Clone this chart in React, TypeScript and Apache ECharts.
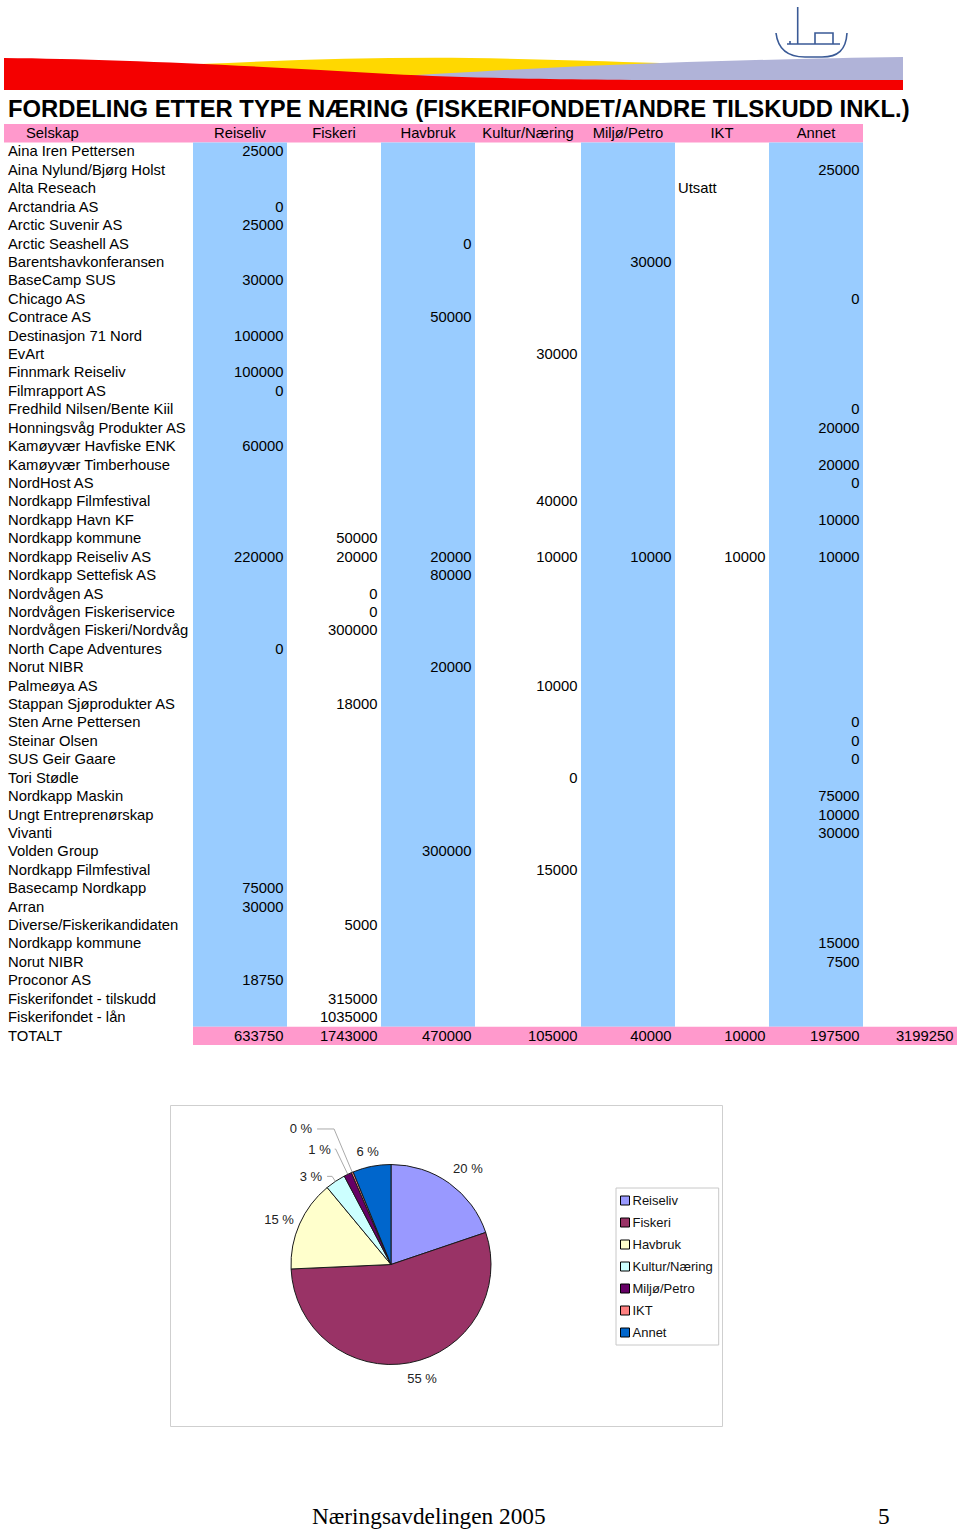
import React, { useEffect, useRef } from "react";
import * as echarts from "echarts";

// ---------- DATA ----------
const categories = ["Reiseliv", "Fiskeri", "Havbruk", "Kultur/Næring", "Miljø/Petro", "IKT", "Annet"];

const companies = [
  "Aina Iren Pettersen", "Aina Nylund/Bjørg Holst", "Alta Reseach", "Arctandria AS",
  "Arctic Suvenir AS", "Arctic Seashell AS", "Barentshavkonferansen", "BaseCamp SUS",
  "Chicago AS", "Contrace AS", "Destinasjon 71 Nord", "EvArt",
  "Finnmark Reiseliv", "Filmrapport AS", "Fredhild Nilsen/Bente Kiil", "Honningsvåg Produkter AS",
  "Kamøyvær Havfiske ENK", "Kamøyvær Timberhouse", "NordHost AS", "Nordkapp Filmfestival",
  "Nordkapp Havn KF", "Nordkapp kommune", "Nordkapp Reiseliv AS", "Nordkapp Settefisk AS",
  "Nordvågen AS", "Nordvågen Fiskeriservice", "Nordvågen Fiskeri/Nordvåg", "North Cape Adventures",
  "Norut NIBR", "Palmeøya AS", "Stappan Sjøprodukter AS", "Sten Arne Pettersen",
  "Steinar Olsen", "SUS Geir Gaare", "Tori Stødle", "Nordkapp Maskin",
  "Ungt Entreprenørskap", "Vivanti", "Volden Group", "Nordkapp Filmfestival",
  "Basecamp Nordkapp", "Arran", "Diverse/Fiskerikandidaten", "Nordkapp kommune",
  "Norut NIBR", "Proconor AS", "Fiskerifondet - tilskudd", "Fiskerifondet - lån",
];

const _ = null;
const reiseliv: (number | null)[] = [
  25000, _, _, 0, 25000, _, _, 30000,
  _, _, 100000, _, 100000, 0, _, _,
  60000, _, _, _, _, _, 220000, _,
  _, _, _, 0, _, _, _, _,
  _, _, _, _, _, _, _, _,
  75000, 30000, _, _, _, 18750, _, _,
];
const fiskeri: (number | null)[] = [
  _, _, _, _, _, _, _, _,
  _, _, _, _, _, _, _, _,
  _, _, _, _, _, 50000, 20000, _,
  0, 0, 300000, _, _, _, 18000, _,
  _, _, _, _, _, _, _, _,
  _, _, 5000, _, _, _, 315000, 1035000,
];
const havbruk: (number | null)[] = [
  _, _, _, _, _, 0, _, _,
  _, 50000, _, _, _, _, _, _,
  _, _, _, _, _, _, 20000, 80000,
  _, _, _, _, 20000, _, _, _,
  _, _, _, _, _, _, 300000, _,
  _, _, _, _, _, _, _, _,
];
const kultur: (number | null)[] = [
  _, _, _, _, _, _, _, _,
  _, _, _, 30000, _, _, _, _,
  _, _, _, 40000, _, _, 10000, _,
  _, _, _, _, _, 10000, _, _,
  _, _, 0, _, _, _, _, 15000,
  _, _, _, _, _, _, _, _,
];
const miljo: (number | null)[] = [
  _, _, _, _, _, _, 30000, _,
  _, _, _, _, _, _, _, _,
  _, _, _, _, _, _, 10000, _,
  _, _, _, _, _, _, _, _,
  _, _, _, _, _, _, _, _,
  _, _, _, _, _, _, _, _,
];
const ikt: (number | string | null)[] = [
  _, _, "Utsatt", _, _, _, _, _,
  _, _, _, _, _, _, _, _,
  _, _, _, _, _, _, 10000, _,
  _, _, _, _, _, _, _, _,
  _, _, _, _, _, _, _, _,
  _, _, _, _, _, _, _, _,
];
const annet: (number | null)[] = [
  _, 25000, _, _, _, _, _, _,
  0, _, _, _, _, _, 0, 20000,
  _, 20000, 0, _, 10000, _, 10000, _,
  _, _, _, _, _, _, _, 0,
  0, 0, _, 75000, 10000, 30000, _, _,
  _, _, _, 15000, 7500, _, _, _,
];

const totals = [633750, 1743000, 470000, 105000, 40000, 10000, 197500];
const grandTotal = 3199250;
const totalLabel = "TOTALT";
const headerFirst = "Selskap";

// ---------- STYLE / LAYOUT ----------
const columns = [reiseliv, fiskeri, havbruk, kultur, miljo, ikt, annet];
const pieColors = ["#9999FF", "#993366", "#FFFFCC", "#CCFFFF", "#660066", "#FF8080", "#0066CC"];
// per-slice label placement: [length, length2, distanceToLabelLine, showLine]
const pieLabelPlacement: [number, number, number, boolean][] = [
  [18.5, 0, -7, false],
  [15.5, 0, -5, false],
  [10, 0, -3.5, false],
  [6, 5, 5, true],
  [28, 1, 4, true],
  [47, 17, 5, true],
  [15, 0, -10, false],
];
const BLUE = "#99CCFF";
const PINK = "#FF99CC";
const FONT = "'Liberation Sans', Arial, sans-serif";
const TABLE_FONT_SIZE = 14.8;
const TABLE_LEFT = 4;
const TABLE_TOP = 124.1;
const ROW_H = 18.42;
const COL_EDGES = [0, 189, 283, 377, 471, 577, 671, 765, 859, 953];
const NROWS = companies.length + 2;

type Cell =
  | { kind: "bg"; c0: number; c1: number; r0: number; r1: number; color: string }
  | { kind: "txt"; col: number; row: number; text: string; align: "left" | "right" | "center"; indent?: number };

function buildCells(): Cell[] {
  const cells: Cell[] = [];
  cells.push({ kind: "bg", c0: 0, c1: 8, r0: 0, r1: 0, color: PINK });
  [1, 3, 5, 7].forEach((c) => cells.push({ kind: "bg", c0: c, c1: c + 1, r0: 1, r1: companies.length, color: BLUE }));
  cells.push({ kind: "bg", c0: 1, c1: 9, r0: NROWS - 1, r1: NROWS - 1, color: PINK });
  cells.push({ kind: "txt", col: 0, row: 0, text: headerFirst, align: "left", indent: 22 });
  categories.forEach((c, i) => cells.push({ kind: "txt", col: i + 1, row: 0, text: c, align: "center" }));
  companies.forEach((name, r) => {
    cells.push({ kind: "txt", col: 0, row: r + 1, text: name, align: "left", indent: 4 });
    columns.forEach((arr, ci) => {
      const v = arr[r];
      if (v === null || v === undefined) return;
      if (typeof v === "string") cells.push({ kind: "txt", col: ci + 1, row: r + 1, text: v, align: "left", indent: 3 });
      else cells.push({ kind: "txt", col: ci + 1, row: r + 1, text: String(v), align: "right" });
    });
  });
  cells.push({ kind: "txt", col: 0, row: NROWS - 1, text: totalLabel, align: "left", indent: 4 });
  totals.forEach((t, i) => cells.push({ kind: "txt", col: i + 1, row: NROWS - 1, text: String(t), align: "right" }));
  cells.push({ kind: "txt", col: 8, row: NROWS - 1, text: String(grandTotal), align: "right" });
  return cells;
}

// decorative header wave shapes
const RED_D = "M4,58 C110,59 240,65 390,74 C470,78 560,80 700,80 L903,80 L903,90 L4,90 Z";
const YELLOW_D = "M200,64 C290,60 380,57 470,58 C540,59 600,61 660,63 L903,63 L903,90 L200,90 Z";
const LAV_D = "M400,76 C470,72 570,66 660,63 C750,60 830,58 903,57 L903,90 L400,90 Z";
const BOAT_D =
  "M776,33 C778,50 788,57 805,57 L822,57 C838,57 846,50 847,33 M787,44 L840,44 M797.7,7 L797.7,44 M790,41 L790,44 M815,44 L815,33 L833,33 L833,44";

let registered = false;
function registerShapes() {
  if (registered) return;
  registered = true;
  echarts.graphic.registerShape("redWave", echarts.graphic.extendPath(RED_D, {}) as any);
  echarts.graphic.registerShape("yellowWave", echarts.graphic.extendPath(YELLOW_D, {}) as any);
  echarts.graphic.registerShape("lavWave", echarts.graphic.extendPath(LAV_D, {}) as any);
  echarts.graphic.registerShape("boat", echarts.graphic.extendPath(BOAT_D, {}) as any);
}

export default function App() {
  const ref = useRef<HTMLDivElement>(null);
  useEffect(() => {
    if (!ref.current) return;
    registerShapes();
    const chart = echarts.init(ref.current, null, { renderer: "svg" });
    const cells = buildCells();

    const option: any = {
      animation: false,
      backgroundColor: "#ffffff",
      grid: {
        left: TABLE_LEFT,
        top: TABLE_TOP,
        width: COL_EDGES[COL_EDGES.length - 1],
        height: ROW_H * NROWS,
        show: false,
      },
      xAxis: { type: "value", min: 0, max: COL_EDGES[COL_EDGES.length - 1], show: false },
      yAxis: {
        type: "category",
        inverse: true,
        show: false,
        data: Array.from({ length: NROWS }, (_v, i) => "r" + i),
      },
      legend: {
        orient: "vertical",
        left: 616,
        top: 1188,
        data: categories,
        icon: "rect",
        itemWidth: 9,
        itemHeight: 9,
        itemGap: 9,
        padding: [6, 6, 6, 4],
        borderColor: "#c8c8c8",
        borderWidth: 1,
        selectedMode: false,
        itemStyle: { borderColor: "#000", borderWidth: 1 },
        textStyle: { fontFamily: FONT, fontSize: 13, color: "#111", padding: [0, 0, 0, -2] },
      },
      graphic: [
        { type: "yellowWave", x: 0, y: 0, style: { fill: "#FFD800" }, z: 1 },
        { type: "lavWave", x: 0, y: 0, style: { fill: "#B0B3D8" }, z: 2 },
        { type: "redWave", x: 0, y: 0, style: { fill: "#F40000" }, z: 3 },
        { type: "boat", x: 0, y: 0, style: { fill: "none", stroke: "#3A5A96", lineWidth: 1.6 }, z: 4 },
        {
          type: "text",
          left: 8,
          top: 96,
          style: {
            text: "FORDELING ETTER TYPE NÆRING (FISKERIFONDET/ANDRE TILSKUDD INKL.)",
            fontFamily: FONT,
            fontWeight: "bold",
            fontSize: 23.8,
            fill: "#000",
          },
        },
        {
          type: "rect",
          shape: { x: 170.5, y: 1105.5, width: 552, height: 321 },
          style: { fill: "none", stroke: "#cfcfcf", lineWidth: 1 },
        },
        {
          type: "text",
          left: 312,
          top: 1504,
          style: { text: "Næringsavdelingen 2005", fontFamily: "'Liberation Serif', serif", fontSize: 23.3, fill: "#000" },
        },
        {
          type: "text",
          left: 878,
          top: 1504,
          style: { text: "5", fontFamily: "'Liberation Serif', serif", fontSize: 23.3, fill: "#000" },
        },
      ],
      series: [
        {
          type: "custom",
          name: "table",
          coordinateSystem: "cartesian2d",
          clip: false,
          silent: true,
          encode: { x: 0, y: 1 },
          data: cells.map((c) => (c.kind === "bg" ? [COL_EDGES[c.c0], c.r0] : [COL_EDGES[c.col], c.row])),
          renderItem: (params: any, api: any) => {
            const c = cells[params.dataIndex];
            const bandH = api.size([0, 1])[1];
            if (c.kind === "bg") {
              const p0 = api.coord([COL_EDGES[c.c0], c.r0]);
              const p1 = api.coord([COL_EDGES[c.c1], c.r1]);
              return {
                type: "rect",
                shape: { x: p0[0], y: p0[1] - bandH / 2, width: p1[0] - p0[0], height: p1[1] - p0[1] + bandH },
                style: { fill: c.color },
              };
            }
            let xv: number;
            if (c.align === "left") xv = COL_EDGES[c.col] + (c.indent || 0);
            else if (c.align === "right") xv = COL_EDGES[c.col + 1] - 3.5;
            else xv = (COL_EDGES[c.col] + COL_EDGES[c.col + 1]) / 2;
            const p = api.coord([xv, c.row]);
            return {
              type: "text",
              x: p[0],
              y: p[1] - 0.3,
              z2: 10,
              style: {
                text: c.text,
                textAlign: c.align,
                textVerticalAlign: "middle",
                fontFamily: FONT,
                fontSize: TABLE_FONT_SIZE,
                fill: "#000",
              },
            };
          },
        },
        {
          type: "pie",
          name: "Fordeling",
          center: [391, 1264.5],
          radius: 100,
          startAngle: 90,
          clockwise: true,
          percentPrecision: 0,
          silent: true,
          avoidLabelOverlap: false,
          itemStyle: { borderColor: "#1a1a1a", borderWidth: 1 },
          emphasis: { disabled: true },
          label: {
            show: true,
            position: "outside",
            formatter: "{d} %",
            fontFamily: FONT,
            fontSize: 13,
            color: "#222",
          },
          labelLine: { show: true, lineStyle: { color: "#aaaaaa", width: 1 } },
          data: categories.map((name, i) => {
            const [l1, l2, dist, showLine] = pieLabelPlacement[i];
            return {
              name,
              value: totals[i],
              itemStyle: { color: pieColors[i] },
              label: { distanceToLabelLine: dist },
              labelLine: { show: showLine, length: l1, length2: l2 },
            };
          }),
        },
      ],
    };
    chart.setOption(option);
    return () => chart.dispose();
  }, []);
  return <div ref={ref} style={{ position: "absolute", left: 0, top: 0, width: 960, height: 1529 }} />;
}
